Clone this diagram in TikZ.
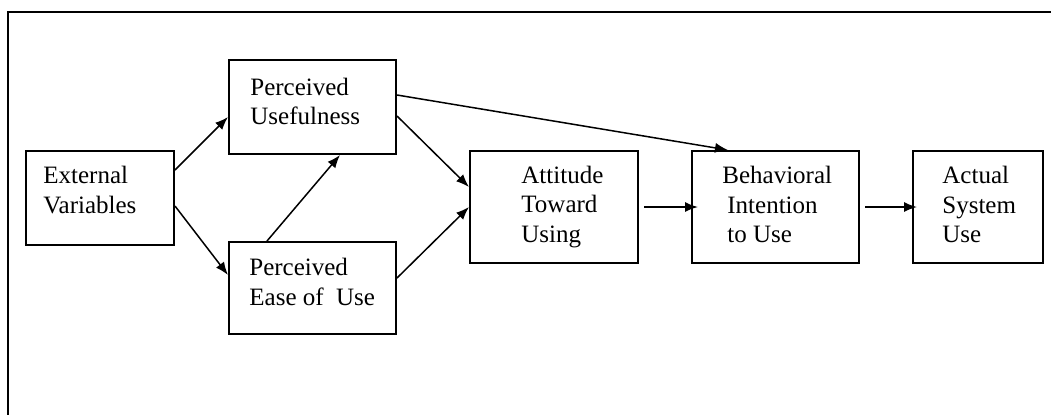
\documentclass[tikz,border=0pt]{standalone}
\usepackage{fontspec}
\setmainfont{Liberation Serif}
\usetikzlibrary{arrows.meta}

\begin{document}
\begin{tikzpicture}[x=0.5pt,y=-0.5pt,
    font=\fontsize{12.5}{14.8}\selectfont,
    box/.style={draw,line width=1pt,inner sep=0pt},
    txt/.style={anchor=west,align=left,inner sep=0pt},
    arr/.style={line width=0.75pt,-{Latex[length=6.5pt,width=5pt]}}]
  \useasboundingbox (0,0) rectangle (1051,414);
  % frame
  \draw[line width=1pt] (8,440) -- (8,12) -- (1080,12);

  % boxes
  \node[box,minimum width=74pt,minimum height=47pt] (ev) at (100,198) {};
  \node[box,minimum width=83.5pt,minimum height=47pt] (pu) at (312.5,107) {};
  \node[box,minimum width=83.5pt,minimum height=46pt] (peou) at (312.5,288) {};
  \node[box,minimum width=84pt,minimum height=56pt] (att) at (554,207) {};
  \node[box,minimum width=83.5pt,minimum height=56pt] (bi) at (775.5,207) {};
  \node[box,minimum width=65pt,minimum height=56pt] (asu) at (978,207) {};

  % labels
  \node[txt] (evtxt) at (43,190) {External\\Variables};
  \node[txt] (putxt) at (250,101.5) {Perceived\\Usefulness};
  \node[txt] (peoutxt) at (249,282) {Perceived\\Ease of~ Use};
  \node[txt] (atttxt) at (521,207) {Attitude\\Toward\\Using};
  \node[txt] (bitxt) at (722,204.5) {Behavioral\\\hspace*{2.5pt}Intention\\\hspace*{2.5pt}to Use};
  \node[txt] (asutxt) at (942,204.5) {Actual\\System\\Use};

  % arrows
  \draw[arr] ([yshift=14pt]ev.east) -- ([yshift=-5pt]pu.west);
  \draw[arr] ([yshift=-4pt]ev.east) -- ([yshift=6.5pt]peou.west);
  \draw[arr] ([xshift=-22.75pt]peou.north) -- ([xshift=13.75pt]pu.south);
  \draw[arr] ([yshift=-4.5pt]pu.east) -- ([yshift=10pt]att.west);
  \draw[arr] ([yshift=5pt]peou.east) -- (att.west);
  \draw[arr] ([yshift=6pt]pu.east) -- ([xshift=-23.75pt]bi.north);
  \draw[arr] ([xshift=2.5pt]att.east) -- ([xshift=3.5pt]bi.west);
  \draw[arr] ([xshift=2.5pt]bi.east) -- ([xshift=2.5pt]asu.west);
\end{tikzpicture}
\end{document}
